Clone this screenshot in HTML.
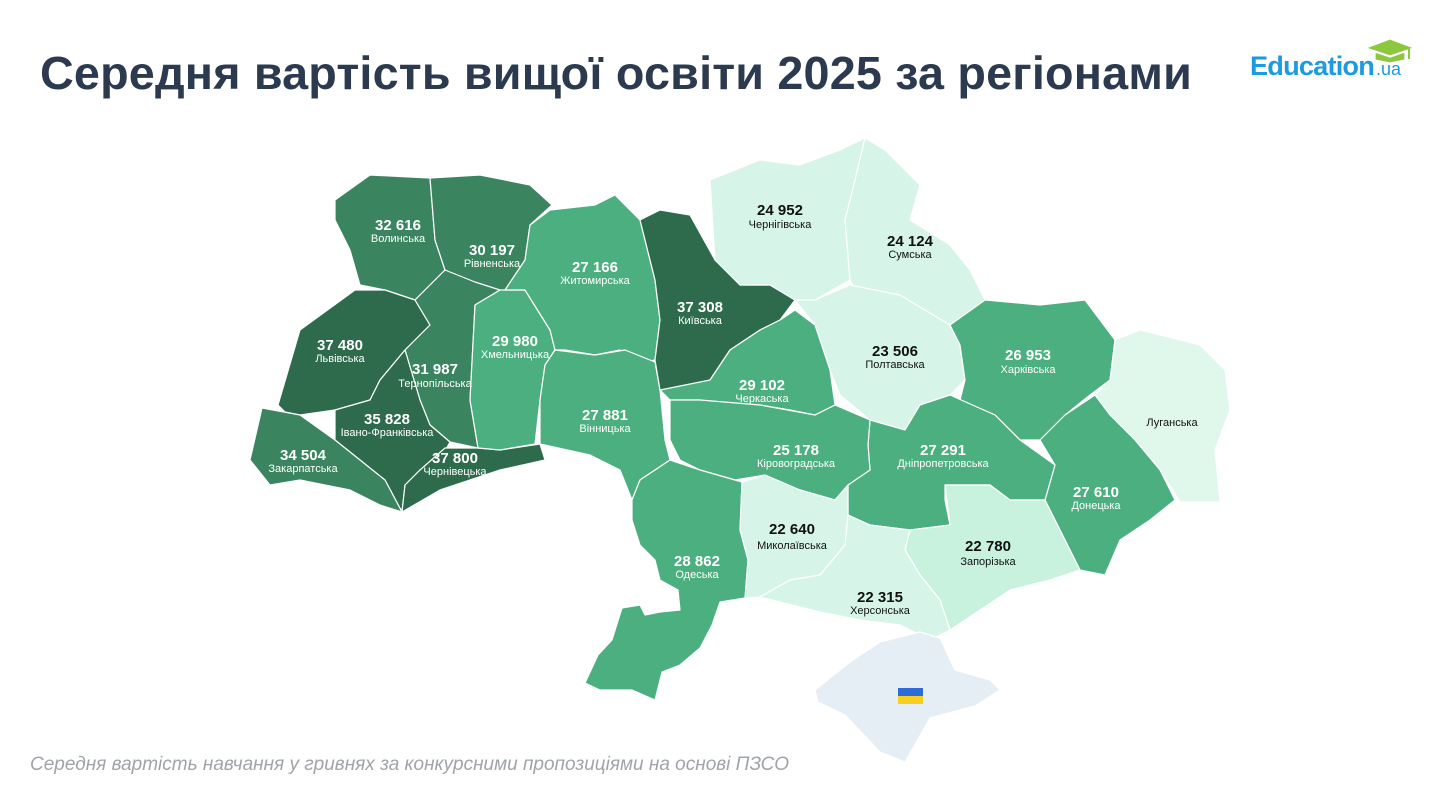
<!DOCTYPE html>
<html><head><meta charset="utf-8"><style>
body{margin:0;width:1454px;height:799px;background:#fff;overflow:hidden;font-family:"Liberation Sans",sans-serif;}
.t{position:absolute;left:40px;top:46px;font-size:46.7px;font-weight:bold;color:#2b3a4e;letter-spacing:0.2px;white-space:nowrap}
.f{position:absolute;left:30px;top:754px;font-size:19px;font-style:italic;color:#a0a4aa}
svg{position:absolute;left:0;top:0}
.v{font-size:15px;font-weight:bold;text-anchor:middle}
.n{font-size:11px;text-anchor:middle}
.w{fill:#fff}.b{fill:#111}
polygon{stroke:#fff;stroke-width:1.2;stroke-linejoin:round}
</style></head><body>
<div class="t">Середня вартість вищої освіти 2025 за регіонами</div>
<div class="f">Середня вартість навчання у гривнях за конкурсними пропозиціями на основі ПЗСО</div>
<svg width="1454" height="799">
<!-- logo -->
<text x="1250" y="75" font-size="27" font-weight="bold" fill="#1d9be0" font-family="Liberation Sans" letter-spacing="-0.8" textLength="124" lengthAdjust="spacingAndGlyphs">Education</text>
<text x="1376" y="75" font-size="18" fill="#1d9be0" font-family="Liberation Sans">.ua</text>
<polygon points="1366,48 1390,39 1414,48 1390,56" fill="#8dc63f" stroke="none"/>
<polygon points="1375,52 1375,60 1390,63 1405,60 1405,52 1390,57" fill="#8dc63f" stroke="none"/>
<rect x="1408" y="49" width="2" height="10" fill="#8dc63f"/>

<g>
<polygon fill="#3a8560" points="335,200 370,175 430,178 435,240 445,270 415,300 385,290 360,285 350,250 335,220"/>
<polygon fill="#3a8560" points="430,178 480,175 530,185 552,205 530,225 525,260 505,290 480,295 460,280 445,270 435,240"/>
<polygon fill="#2e6a4c" points="278,405 300,330 355,290 385,290 415,300 430,325 405,350 380,380 370,400 335,410 300,415 285,412"/>
<polygon fill="#3a8560" points="415,300 445,270 475,282 500,290 475,305 470,400 478,448 450,442 430,425 420,400 405,350 430,325"/>
<polygon fill="#2e6a4c" points="335,410 370,400 380,380 405,350 420,400 430,425 450,442 440,460 420,470 405,485 402,512 385,480 360,460 335,440"/>
<polygon fill="#3a8560" points="262,408 300,415 335,440 360,460 385,480 402,512 380,505 350,490 300,480 270,485 250,460"/>
<polygon fill="#2e6a4c" points="405,485 420,470 445,448 478,448 500,450 540,444 545,460 500,470 470,480 440,490 402,512"/>
<polygon fill="#4caf80" points="475,305 500,290 525,290 550,330 555,350 545,365 540,400 535,444 500,450 478,448 470,400"/>
<polygon fill="#4caf80" points="525,260 530,225 550,210 595,205 615,195 640,220 655,280 660,320 655,360 630,365 620,350 595,355 565,350 555,350 550,330 525,290 505,290"/>
<polygon fill="#4caf80" points="555,350 595,355 625,350 655,362 660,390 665,440 670,460 640,480 632,500 620,470 590,455 540,444 540,400 545,365"/>
<polygon fill="#2e6a4c" points="640,220 660,210 690,215 715,260 740,285 770,285 795,300 780,320 760,330 730,350 710,380 670,395 660,390 655,360 660,320 655,280"/>
<polygon fill="#d6f5e8" points="710,180 760,160 800,165 840,150 865,138 855,180 845,220 850,280 815,300 795,300 770,285 740,285 715,260"/>
<polygon fill="#d6f5e8" points="865,138 885,150 920,185 910,220 950,245 970,270 985,300 975,320 950,325 900,300 855,290 850,280 845,220 855,180"/>
<polygon fill="#d6f5e8" points="795,300 815,300 850,285 900,295 950,325 960,345 965,380 950,395 920,405 905,430 870,420 840,395 830,370 815,325"/>
<polygon fill="#4caf80" points="730,350 760,330 780,320 795,310 815,325 830,370 835,405 815,415 790,410 760,405 730,405 700,400 670,400 660,390 710,380"/>
<polygon fill="#4caf80" points="950,325 985,300 1040,305 1085,300 1100,320 1115,340 1110,380 1090,395 1065,415 1040,440 1020,440 995,415 960,400 965,380 960,345"/>
<polygon fill="#e0f7ec" points="1115,340 1140,330 1200,345 1225,370 1230,410 1215,450 1220,502 1180,502 1160,470 1135,440 1110,415 1095,395 1110,380"/>
<polygon fill="#4caf80" points="1040,440 1065,415 1095,395 1110,415 1135,440 1160,470 1175,500 1150,520 1120,540 1105,575 1080,570 1060,530 1045,500 1055,465"/>
<polygon fill="#4caf80" points="870,420 905,430 920,405 950,395 995,415 1020,440 1055,465 1045,500 1010,500 990,485 945,485 945,500 950,525 910,530 870,525 848,515 848,485 870,470 868,445"/>
<polygon fill="#4caf80" points="670,400 700,400 760,405 815,415 835,405 870,420 868,445 870,470 848,485 835,500 800,490 765,475 735,480 700,470 680,460 670,440"/>
<polygon fill="#4caf80" points="632,500 640,480 670,460 700,470 742,482 740,530 748,560 745,598 720,602 712,625 700,648 680,665 662,672 655,700 632,690 600,690 585,683 598,655 612,640 622,608 640,605 645,615 660,612 680,610 678,590 660,580 655,560 640,545 632,520"/>
<polygon fill="#d6f5e8" points="742,482 765,475 800,490 835,500 848,485 848,515 845,545 820,575 790,580 760,597 745,598 748,560 740,530"/>
<polygon fill="#c8f2de" points="910,530 950,525 945,485 990,485 1010,500 1045,500 1060,530 1080,570 1050,580 1010,590 980,610 950,630 940,600 920,575 905,550"/>
<polygon fill="#d6f5e8" points="760,597 790,580 820,575 845,545 848,515 870,525 910,530 905,550 920,575 940,600 950,630 930,640 900,625 860,620 820,612 780,602"/>
<polygon fill="#e6eef5" stroke="none" points="815,690 850,662 880,642 920,632 940,638 955,670 990,680 1000,690 975,706 930,718 905,762 880,752 845,715 818,702"/>
</g>
<rect x="898" y="688" width="25" height="8" fill="#2c6bd8"/><rect x="898" y="696" width="25" height="8" fill="#f7cf1f"/>

<g>
<text class="v w" x="398" y="230">32 616</text><text class="n w" x="398" y="242">Волинська</text>
<text class="v w" x="492" y="255">30 197</text><text class="n w" x="492" y="267">Рівненська</text>
<text class="v w" x="340" y="350">37 480</text><text class="n w" x="340" y="362">Львівська</text>
<text class="v w" x="435" y="374">31 987</text><text class="n w" x="435" y="387">Тернопільська</text>
<text class="v w" x="387" y="424">35 828</text><text class="n w" x="387" y="436">Івано-Франківська</text>
<text class="v w" x="303" y="460">34 504</text><text class="n w" x="303" y="472">Закарпатська</text>
<text class="v w" x="455" y="463">37 800</text><text class="n w" x="455" y="475">Чернівецька</text>
<text class="v w" x="515" y="346">29 980</text><text class="n w" x="515" y="358">Хмельницька</text>
<text class="v w" x="595" y="272">27 166</text><text class="n w" x="595" y="284">Житомирська</text>
<text class="v w" x="605" y="420">27 881</text><text class="n w" x="605" y="432">Вінницька</text>
<text class="v w" x="700" y="312">37 308</text><text class="n w" x="700" y="324">Київська</text>
<text class="v b" x="780" y="215">24 952</text><text class="n b" x="780" y="228">Чернігівська</text>
<text class="v b" x="910" y="246">24 124</text><text class="n b" x="910" y="258">Сумська</text>
<text class="v b" x="895" y="356">23 506</text><text class="n b" x="895" y="368">Полтавська</text>
<text class="v w" x="762" y="390">29 102</text><text class="n w" x="762" y="402">Черкаська</text>
<text class="v w" x="1028" y="360">26 953</text><text class="n w" x="1028" y="373">Харківська</text>
<text class="n b" x="1172" y="426">Луганська</text>
<text class="v w" x="796" y="455">25 178</text><text class="n w" x="796" y="467">Кіровоградська</text>
<text class="v w" x="943" y="455">27 291</text><text class="n w" x="943" y="467">Дніпропетровська</text>
<text class="v w" x="1096" y="497">27 610</text><text class="n w" x="1096" y="509">Донецька</text>
<text class="v b" x="792" y="534">22 640</text><text class="n b" x="792" y="549">Миколаївська</text>
<text class="v b" x="988" y="551">22 780</text><text class="n b" x="988" y="565">Запорізька</text>
<text class="v b" x="880" y="602">22 315</text><text class="n b" x="880" y="614">Херсонська</text>
<text class="v w" x="697" y="566">28 862</text><text class="n w" x="697" y="578">Одеська</text>
</g>
</svg>
</body></html>
